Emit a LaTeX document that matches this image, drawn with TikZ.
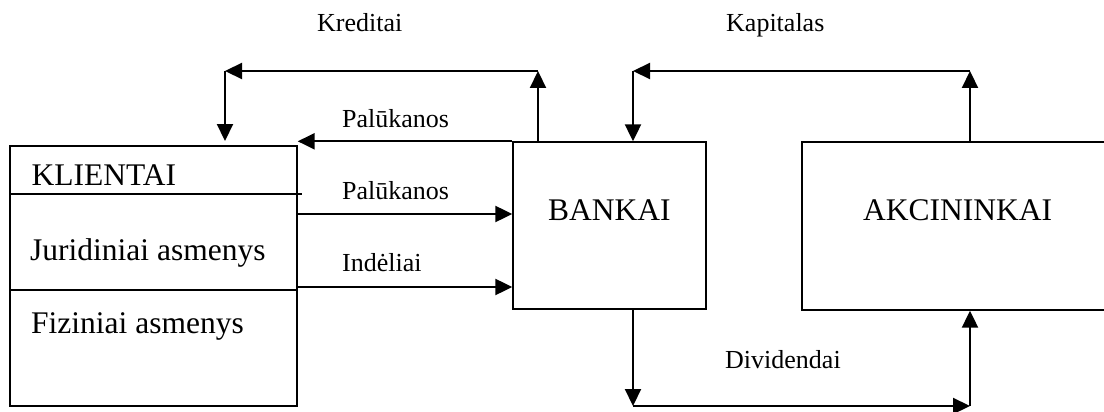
\documentclass[tikz,border=0pt]{standalone}
\usepackage{fontspec}
\setmainfont{Liberation Serif}
\usetikzlibrary{arrows.meta}
\begin{document}
\begin{tikzpicture}[x=1pt,y=-1pt,
  box/.style={draw,line width=1.4pt,inner sep=0pt},
  divider/.style={line width=1.4pt},
  conn/.style={line width=2.2pt,-{Triangle[length=17pt,width=16pt]}},
  big/.style={font=\fontsize{31.5}{36}\selectfont,inner sep=0pt,anchor=base west},
  lbl/.style={font=\fontsize{26}{30}\selectfont,inner sep=0pt,anchor=base west}]
\useasboundingbox (0,0) rectangle (1104,412);
\clip (0,0) rectangle (1104,412);
% boxes
\node[box,minimum width=287pt,minimum height=260pt] (klientai) at (153.5,276) {};
\node[box,minimum width=193pt,minimum height=167pt] (bankai) at (609.5,225.5) {};
\node[box,minimum width=320pt,minimum height=168pt] (akc) at (962,226) {};
% dividers in KLIENTAI
\coordinate (d1) at (302,194);
\coordinate (d2) at (0,290);
\draw[divider] (klientai.west |- d1) -- (d1);
\draw[divider] (klientai.west |- d2) -- (klientai.east |- d2);
% box texts
\node[big] (tk) at (31.5,185) {KLIENTAI};
\node[big] (tj) at (30,260) {Juridiniai asmenys};
\node[big] (tf) at (31,333) {Fiziniai asmenys};
\node[big] (tb) at (548,220) {BANKAI};
\node[big] (ta) at (863,220) {AKCININKAI};
% labels
\node[lbl] (lkr) at (317,32) {Kreditai};
\node[lbl] (lka) at (726,32) {Kapitalas};
\node[lbl] (lp1) at (342,128) {Palūkanos};
\node[lbl] (lp2) at (342,199) {Palūkanos};
\node[lbl] (lin) at (342,271) {Indėliai};
\node[lbl] (ldv) at (725,368) {Dividendai};
% Kreditai loop
\coordinate (kr1) at (538,71);
\coordinate (kr2) at (225,71);
\coordinate (kr3) at (225,141);
\draw[conn] (bankai.north west -| kr1) -- (kr1);
\draw[conn] (kr1) -- (kr2);
\draw[conn] (kr2) -- (kr3);
% Palukanos (upper) bank -> clients
\draw[conn] (bankai.north west) -- (klientai.east |- bankai.north);
% Palukanos (lower), Indeliai: clients -> bank
\coordinate (yp) at (0,214);
\coordinate (yi) at (0,287);
\draw[conn] (klientai.east |- yp) -- (bankai.west |- yp);
\draw[conn] (klientai.east |- yi) -- (bankai.west |- yi);
% Kapitalas loop
\coordinate (ka1) at (970,71);
\coordinate (ka2) at (633,71);
\draw[conn] (akc.north -| ka1) -- (ka1);
\draw[conn] (ka1) -- (ka2);
\draw[conn] (ka2) -- (bankai.north -| ka2);
% Dividendai loop
\coordinate (dv1) at (633,406);
\coordinate (dv2) at (970,406);
\draw[conn] (bankai.south -| dv1) -- (dv1);
\draw[conn] (dv1) -- (dv2);
\draw[conn] (dv2) -- (akc.south -| dv2);
\end{tikzpicture}
\end{document}
